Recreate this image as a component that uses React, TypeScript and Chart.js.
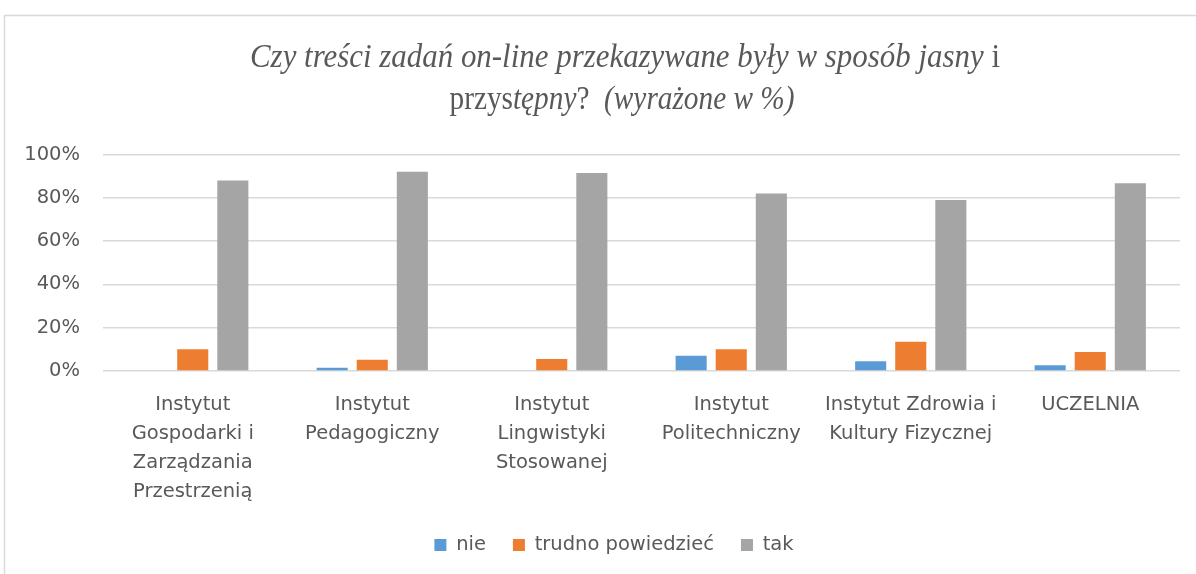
import React, { useEffect, useRef } from "react";
import { Chart, registerables } from "chart.js";

Chart.register(...registerables);

const categories: string[][] = [
  ["Instytut", "Gospodarki i", "Zarządzania", "Przestrzenią"],
  ["Instytut", "Pedagogiczny"],
  ["Instytut", "Lingwistyki", "Stosowanej"],
  ["Instytut", "Politechniczny"],
  ["Instytut Zdrowia i", "Kultury Fizycznej"],
  ["UCZELNIA"],
];
const seriesNames = ["nie", "trudno powiedzieć", "tak"];
const nie = [0, 1.5, 0, 7, 4.5, 2.7];
const trudno = [10, 5.2, 5.6, 10, 13.5, 8.8];
const tak = [88, 92, 91.5, 82, 79, 86.7];
const yTicks = [0, 20, 40, 60, 80, 100];

const titleLines = [
  [
    { t: "Czy treści zadań on-line przekazywane były w sposób jasny", i: true },
    { t: " i", i: false },
  ],
  [
    { t: "przys", i: false },
    { t: "tępny", i: true },
    { t: "?", i: false },
    { t: "  (wyrażone w %)", i: true },
  ],
];

const TEXT = "#595959";
const FONT = "'DejaVu Sans', sans-serif";
const FS = 19.5;

const framePlugin = {
  id: "frame",
  beforeDraw(chart: any) {
    const ctx = chart.ctx;
    ctx.save();
    ctx.fillStyle = "#ffffff";
    ctx.fillRect(0, 0, chart.width, chart.height);
    ctx.strokeStyle = "#d9d9d9";
    ctx.lineWidth = 1.5;
    ctx.strokeRect(4.5, 15.5, chart.width + 20, chart.height + 20);
    ctx.restore();
  },
};

const legendShiftPlugin = {
  id: "legendShift",
  afterLayout(chart: any) {
    if (chart.legend) {
      chart.legend.left += 24;
      chart.legend.right += 24;
    }
  },
};

const titlePlugin = {
  id: "mixedTitle",
  afterDraw(chart: any) {
    const ctx = chart.ctx;
    const size = 33;
    const centers = [625, 622];
    const widths = [750, 345];
    const baselines = [67, 109];
    ctx.save();
    ctx.fillStyle = TEXT;
    ctx.textBaseline = "alphabetic";
    ctx.textAlign = "left";
    titleLines.forEach((segs, li) => {
      let total = 0;
      segs.forEach((s) => {
        ctx.font = `${s.i ? "italic " : ""}${size}px 'Liberation Serif', serif`;
        total += ctx.measureText(s.t).width;
      });
      const k = widths[li] / total;
      ctx.save();
      ctx.translate(centers[li] - widths[li] / 2, baselines[li]);
      ctx.scale(k, 1);
      let x = 0;
      segs.forEach((s) => {
        ctx.font = `${s.i ? "italic " : ""}${size}px 'Liberation Serif', serif`;
        ctx.fillText(s.t, x, 0);
        x += ctx.measureText(s.t).width;
      });
      ctx.restore();
    });
    ctx.restore();
  },
};

export default function App() {
  const ref = useRef<HTMLCanvasElement>(null);
  useEffect(() => {
    if (!ref.current) return;
    const chart = new Chart(ref.current, {
      type: "bar",
      data: {
        labels: categories,
        datasets: [
          { label: seriesNames[0], data: nie, backgroundColor: "#5B9BD5" },
          { label: seriesNames[1], data: trudno, backgroundColor: "#ED7D31" },
          { label: seriesNames[2], data: tak, backgroundColor: "#A5A5A5" },
        ],
      },
      options: {
        responsive: false,
        animation: false,
        layout: { padding: { top: 154.5, left: 0, right: 16, bottom: 9.25 } },
        datasets: {
          bar: { barPercentage: 0.775, categoryPercentage: 0.67 },
        },
        plugins: {
          title: { display: false },
          tooltip: { enabled: false },
          legend: {
            position: "bottom",
            labels: {
              color: TEXT,
              font: { family: FONT, size: FS },
              boxWidth: 12,
              boxHeight: 12,
              padding: 27,
            },
          },
        },
        scales: {
          x: {
            grid: { display: false, drawTicks: false },
            border: { display: false },
            ticks: {
              color: TEXT,
              font: { family: FONT, size: FS, lineHeight: 29 / FS },
              padding: 19,
              maxRotation: 0,
              autoSkip: false,
            },
            afterFit: (s: any) => {
              s.height = 137.25;
            },
          },
          y: {
            min: 0,
            max: 100,
            afterBuildTicks: (s: any) => {
              s.ticks = yTicks.map((v) => ({ value: v }));
            },
            grid: { color: "#d9d9d9", lineWidth: 1.5, drawTicks: false },
            border: { display: false },
            ticks: {
              color: TEXT,
              font: { family: FONT, size: FS },
              padding: 23,
              callback: (v: any) => `${v}%`,
            },
            afterFit: (s: any) => {
              s.width = 103;
            },
          },
        },
      },
      plugins: [framePlugin, legendShiftPlugin, titlePlugin],
    });
    return () => chart.destroy();
  }, []);
  return (
    <div style={{ position: "fixed", left: 0, top: 0, width: 1196, height: 574 }}>
      <canvas ref={ref} width={1196} height={574} style={{ display: "block" }} />
    </div>
  );
}
